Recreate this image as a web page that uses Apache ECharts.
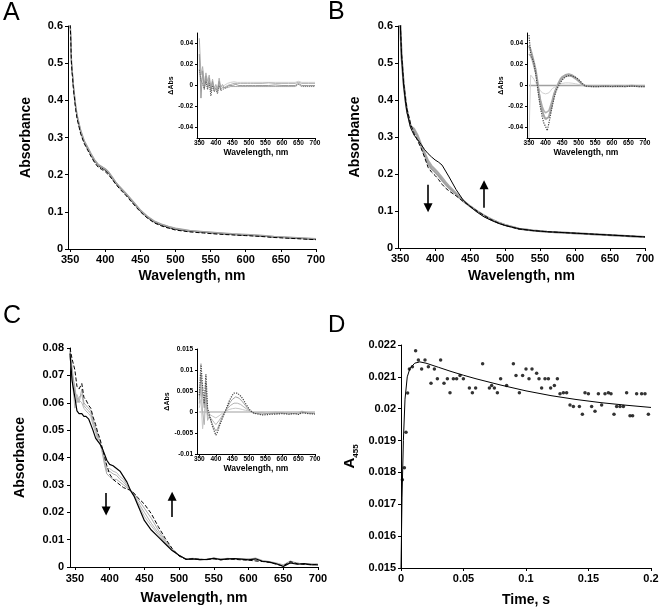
<!DOCTYPE html>
<html><head><meta charset="utf-8">
<script src="https://cdn.jsdelivr.net/npm/echarts@6/dist/echarts.min.js"></script>
<style>html,body{margin:0;padding:0;background:#fff}#c{width:661px;height:610px}</style>
</head><body><div id="c"></div>
<script>
// ---------- tick labels ----------
const WL_TICKS = [350,400,450,500,550,600,650,700];
const INSET_AB_YTICKS = [-0.04,-0.02,0,0.02,0.04];

// ---------- panel A & B main spectra ----------
const WL_AB = [350,352,355,358,360,365,370,375,380,385,390,395,400,405,410,415,420,430,440,450,460,470,480,490,500,520,540,560,580,600,620,640,660,680,700];
const A_black = [.62,.50,.43,.38,.355,.315,.288,.27,.252,.236,.224,.218,.212,.203,.19,.177,.166,.146,.124,.102,.085,.072,.064,.058,.053,.048,.045,.042,.039,.037,.035,.032,.030,.028,.026];
const A_gray1 = [.62,.505,.435,.385,.36,.32,.292,.274,.256,.24,.228,.222,.216,.207,.194,.18,.169,.149,.127,.105,.088,.075,.067,.061,.056,.05,.047,.044,.041,.039,.037,.034,.032,.030,.028];
const A_gray2 = [.62,.50,.432,.382,.358,.318,.29,.272,.254,.238,.226,.221,.215,.206,.192,.179,.168,.148,.126,.104,.087,.074,.066,.060,.055,.049,.046,.043,.040,.038,.036,.033,.031,.029,.027];
const A_dash  = [.62,.495,.425,.375,.35,.31,.284,.266,.248,.232,.22,.214,.208,.199,.187,.174,.163,.143,.121,.1,.083,.07,.062,.056,.051,.046,.043,.040,.038,.036,.034,.031,.029,.027,.025];

const B_black = [.62,.52,.44,.39,.365,.325,.305,.293,.28,.266,.255,.246,.238,.232,.224,.208,.192,.158,.13,.112,.097,.084,.075,.067,.061,.052,.047,.044,.042,.040,.038,.036,.034,.032,.030];
const B_gray1 = [.62,.52,.445,.395,.37,.33,.322,.305,.28,.258,.236,.222,.212,.202,.19,.178,.167,.148,.128,.113,.099,.087,.077,.069,.062,.052,.047,.044,.042,.040,.038,.036,.034,.032,.030];
const B_gray2 = [.62,.52,.445,.395,.37,.33,.318,.3,.276,.252,.228,.214,.205,.195,.183,.172,.162,.145,.127,.113,.1,.088,.078,.069,.062,.052,.047,.044,.042,.040,.038,.036,.034,.032,.030];
const B_dash  = [.62,.53,.45,.40,.375,.335,.31,.29,.27,.245,.218,.205,.196,.185,.172,.162,.154,.141,.126,.113,.1,.088,.077,.068,.061,.051,.047,.044,.042,.040,.038,.036,.034,.032,.030];
// arrows: [wavelength, from, to]
const B_arrows = [[390,0.171,0.109],[470,0.109,0.171]];

// ---------- panel C main spectra ----------
const WL_C = [343,346,350,353,356,360,363,366,370,373,376,380,383,386,390,393,396,400,405,410,415,420,425,430,435,440,450,460,470,480,490,500,510,520,530,540,550,560,570,580,590,600,610,620,630,640,650,660,670,680,690,700];
const C_dash  = [.080,.076,.072,.066,.065,.067,.062,.061,.059,.058,.055,.052,.049,.047,.043,.040,.037,.034,.032,.031,.030,.029,.0285,.028,.027,.0255,.023,.0195,.0148,.0105,.0068,.0040,.0028,.0030,.0028,.0027,.0030,.0026,.0029,.0028,.0026,.0025,.0022,.0020,.0017,.0010,.0004,.0020,.0012,.0010,.0008,.0010];
const C_black = [.078,.068,.062,.057,.056,.056,.055,.055,.054,.052,.050,.047,.046,.045,.043,.041,.039,.0375,.037,.036,.035,.033,.031,.028,.026,.023,.017,.0135,.011,.0085,.006,.0043,.0028,.0030,.0027,.0028,.0032,.0027,.0030,.0031,.0029,.0026,.0030,.0021,.0018,.0012,.0002,.0015,.0010,.0012,.0009,.0008];
const C_gray1 = [.079,.070,.066,.060,.062,.063,.059,.058,.057,.056,.053,.050,.047,.046,.042,.038,.035,.035,.034,.0335,.032,.031,.0295,.028,.0265,.024,.020,.016,.0125,.0093,.0063,.0041,.0030,.0029,.0030,.0026,.0034,.0028,.0031,.0027,.0030,.0028,.0033,.0024,.0020,.0015,.0008,.0022,.0014,.0011,.0012,.0009];
const C_gray2 = [.079,.073,.064,.062,.060,.065,.060,.059,.058,.057,.054,.051,.048,.046,.041,.037,.034,.033,.032,.032,.031,.030,.029,.028,.027,.025,.0215,.0178,.0135,.0098,.0066,.0041,.0029,.0031,.0026,.0029,.0028,.0031,.0027,.0030,.0027,.0029,.0025,.0022,.0019,.0013,.0006,.0018,.0015,.0009,.0010,.0011];
const C_gray3 = [.077,.069,.058,.063,.061,.060,.058,.057,.056,.055,.052,.049,.046,.045,.042,.039,.036,.036,.035,.0345,.033,.032,.030,.028,.026,.0235,.0185,.015,.0118,.0089,.0061,.0042,.0029,.0032,.0028,.0027,.0030,.0029,.0032,.0029,.0028,.0031,.0027,.0023,.0017,.0011,.0005,.0019,.0011,.0013,.0008,.0010];
const C_arrows = [[395,0.027,0.0205],[490,0.0183,0.0258]];

// ---------- inset difference spectra ----------
const WL_IN = [350,355,360,365,370,375,380,385,390,395,400,405,410,415,420,425,430,435,440,445,450,455,460,465,470,475,480,485,490,495,500,505,510,515,520,540,560,580,600,620,640,650,660,680,700];
const A_in1 = [.045,.010,.018,.002,.012,.004,.010,-.002,.006,-.003,.001,-.004,.007,-.002,.001,-.002,-.001,.000,.001,.001,.002,.002,.002,.002,.002,.002,.0025,.002,.002,.002,.002,.002,.002,.002,.002,.002,.0025,.002,.002,.002,.002,.003,.002,.002,.002];
const A_in2 = [.030,-.012,.014,-.004,.009,-.002,.007,-.006,.004,-.005,-.002,-.006,.004,-.004,-.002,-.003,-.002,-.001,.000,.000,.000,.000,.001,.000,.000,.001,.000,.000,.000,.000,.000,.000,.000,.000,.000,.000,.000,.0005,.000,.000,.000,.002,.000,.000,.000];
const A_in3 = [.015,.005,.006,-.003,.004,-.004,.002,-.010,.000,-.006,-.004,-.008,.000,-.005,-.004,-.003,-.002,-.002,-.001,-.001,-.001,-.001,-.001,-.001,-.001,-.001,-.001,-.001,-.001,-.001,-.001,-.001,-.001,-.001,-.001,-.001,-.001,-.001,-.001,-.001,-.001,.001,-.001,-.001,-.001];
const A_in4 = [.020,.004,.009,.000,.006,.001,.004,-.003,.002,-.002,.000,-.003,.003,-.001,.000,.000,.001,.002,.003,.003,.0035,.0035,.0035,.003,.003,.003,.003,.003,.003,.003,.003,.003,.003,.003,.003,.003,.003,.003,.003,.003,.003,.004,.003,.003,.003];

const B_in_dot = [.048,.030,.026,.021,.012,.000,-.012,-.022,-.030,-.036,-.039,-.043,-.036,-.028,-.020,-.013,-.007,-.003,.000,.003,.005,.007,.0085,.0092,.0095,.0095,.009,.0085,.008,.007,.0055,.004,.002,.0005,-.0005,-.001,-.001,-.0008,-.001,-.0008,-.001,-.0008,-.0005,-.001,-.001];
const B_in_g1 = [.038,.034,.028,.022,.015,.005,-.007,-.017,-.024,-.029,-.032,-.033,-.030,-.024,-.017,-.010,-.005,-.001,.003,.006,.008,.0093,.010,.0105,.0108,.0105,.0098,.0088,.0075,.006,.0045,.003,.0015,.0003,-.0005,-.0008,-.0008,-.0005,-.0008,-.0005,-.0008,-.0005,-.0003,-.0008,-.0008];
const B_in_g2 = [.030,.028,.024,.018,.012,.004,-.006,-.014,-.020,-.024,-.026,-.027,-.024,-.019,-.014,-.008,-.004,-.001,.002,.0045,.0065,.0078,.0085,.009,.0092,.009,.0085,.0075,.0064,.005,.0038,.0025,.0012,.0002,-.0005,-.0008,-.0006,-.0005,-.0007,-.0005,-.0007,-.0004,-.0003,-.0007,-.0007];
const B_in_g3 = [-.050,.010,.008,.006,.003,.000,-.003,-.005,-.007,-.008,-.008,-.008,-.007,-.005,-.003,-.002,-.001,.000,.001,.0015,.002,.0023,.0025,.0025,.0025,.0024,.0022,.002,.0017,.0014,.001,.0006,.0003,.0000,-.0003,-.0005,-.0005,-.0005,-.0005,-.0005,-.0005,-.0005,-.0005,-.0005,-.0005];

const C_in_dot = [.004,.0115,.006,.002,.009,.001,-.0005,-.002,-.0035,-.0045,-.0055,-.0048,-.0035,-.0025,-.0015,-.0005,.0005,.0015,.0025,.0033,.004,.0045,.0047,.0045,.0043,.0038,.0033,.0027,.002,.0014,.0008,.0003,.0000,-.0003,-.0005,-.0007,-.0006,-.0005,-.0004,-.0005,-.0004,-.0006,-.0002,-.0004,-.0005];
const C_in_g1 = [.003,.009,.004,.001,.007,-.0005,-.001,-.002,-.003,-.0038,-.0045,-.004,-.003,-.002,-.0012,-.0004,.0004,.0011,.0019,.0025,.003,.0034,.0036,.0035,.0033,.0029,.0025,.002,.0015,.001,.0006,.0002,-.0001,-.0003,-.0004,-.0005,-.0003,-.0004,-.0002,-.0005,-.0003,-.0005,.0000,-.0003,-.0004];
const C_in_g2 = [.002,.006,.000,-.003,.004,-.002,-.001,-.0015,-.002,-.0025,-.003,-.0027,-.002,-.0014,-.0008,-.0002,.0003,.0008,.0012,.0016,.0019,.0021,.0022,.0021,.002,.0018,.0015,.0012,.0009,.0006,.0003,.0001,-.0001,-.0002,-.0003,-.0002,-.0004,-.0001,-.0003,-.0002,-.0004,-.0002,.0001,-.0002,-.0003];
const C_in_g3 = [.001,.003,-.004,.000,.002,-.001,-.0005,-.0008,-.001,-.0012,-.0014,-.0012,-.0009,-.0006,-.0003,.0000,.0002,.0004,.0006,.0007,.0008,.0009,.0009,.0009,.0008,.0007,.0006,.0005,.0004,.0003,.0002,.0001,.0000,-.0001,-.0002,-.0001,-.0003,.0000,-.0002,-.0001,-.0003,-.0001,.0002,-.0001,-.0002];

const BASE_WL = [350,700];
const BASE_V = [0,0];

// ---------- panel D kinetics ----------
const D_t = [0.0011,0.0027,0.0040,0.0053,0.0067,0.0091,0.0117,0.0139,0.0165,0.0192,
  0.0219,0.0240,0.0267,0.0291,0.0317,0.0344,0.0371,0.0392,0.0419,0.0445,
  0.0472,0.0499,0.0547,0.0571,0.0597,0.0653,0.0707,0.0725,0.0747,0.0771,
  0.0797,0.0845,0.0899,0.0920,0.0947,0.0973,0.1000,0.1024,0.1048,0.1085,
  0.1104,0.1125,0.1152,0.1179,0.1197,0.1227,0.1251,0.1272,0.1299,0.1325,
  0.1352,0.1379,0.1427,0.1451,0.1472,0.1499,0.1525,0.1552,0.1579,0.1605,
  0.1632,0.1659,0.1680,0.1704,0.1725,0.1752,0.1779,0.1805,0.1832,0.1853,
  0.1885,0.1925,0.1952,0.1979];
const D_A = [0.01777,0.01815,0.01926,0.02049,0.02125,0.02132,0.02182,0.02153,0.02125,0.02153,
  0.02132,0.02080,0.02125,0.02094,0.02153,0.02080,0.02094,0.02050,0.02094,0.02094,
  0.02104,0.02094,0.02065,0.02050,0.02065,0.02141,0.02065,0.02073,0.02065,0.02050,
  0.02094,0.02073,0.02141,0.02104,0.02050,0.02104,0.02125,0.02094,0.02125,0.02111,
  0.02094,0.02065,0.02094,0.02094,0.02065,0.02073,0.02094,0.02047,0.02050,0.02050,
  0.02012,0.02007,0.02007,0.01983,0.02050,0.02047,0.02007,0.01992,0.02047,0.02012,
  0.02047,0.02050,0.02047,0.01983,0.02007,0.02007,0.02007,0.02050,0.01978,0.01978,
  0.02047,0.02047,0.02047,0.01983];
const D_fit_t = [0,0.0008,0.0019,0.0032,0.005,0.0072,0.011,0.015,0.02,0.03,0.04,0.05,0.06,0.08,0.1,0.12,0.14,0.16,0.18,0.2];
const D_fit_A = [0.0150,0.0172,0.0190,0.0203,0.0210,0.02127,0.02143,0.02147,0.02143,0.02130,0.02117,0.02105,0.02094,0.02074,0.02056,0.02041,0.02029,0.02019,0.02011,0.02004];

// ---------- build ----------
const FONT = "'Liberation Sans', Arial, Helvetica, sans-serif";
const zip = (xs, ys) => xs.map((x, i) => [x, ys[i]]);

function ln(g, xs, ys, color, width, type, z) {
  return {type: 'line', xAxisIndex: g, yAxisIndex: g, data: zip(xs, ys), showSymbol: false, symbol: 'none',
    lineStyle: {color: color, width: width, type: type || 'solid'}, z: z || 2, animation: false, silent: true};
}
function arrows(arr) {
  return {silent: true, symbol: ['none', 'triangle'], symbolSize: 9, animation: false,
    lineStyle: {color: '#000', width: 1.6, type: 'solid'}, label: {show: false},
    data: arr.map(a => [{coord: [a[0], a[1]]}, {coord: [a[0], a[2]]}])};
}
function xAx(g, o) {
  return {gridIndex: g, type: 'value', min: o.min, max: o.max, interval: o.interval,
    axisLine: {show: true, onZero: false, lineStyle: {color: '#000', width: 1}},
    axisTick: {show: true, inside: false, length: o.tl, customValues: o.ticks, lineStyle: {color: '#000', width: 1}},
    axisLabel: {show: true, customValues: o.ticks, margin: o.margin, fontSize: o.fs, fontWeight: 'bold', color: '#000', fontFamily: FONT, hideOverlap: false},
    splitLine: {show: false},
    name: o.name, nameLocation: 'middle', nameGap: o.gap,
    nameTextStyle: {fontSize: o.nfs, fontWeight: 'bold', color: '#000', fontFamily: FONT}};
}
function yAx(g, o) {
  const a = xAx(g, o);
  if (o.rich) a.nameTextStyle.rich = o.rich;
  return a;
}

const option = {
  backgroundColor: '#fff',
  animation: false,
  grid: [
    {left: 68, top: 26, width: 248, height: 223, outerBoundsMode: 'none'},
    {left: 197, top: 33, width: 118, height: 105, outerBoundsMode: 'none'},
    {left: 398, top: 26, width: 247, height: 222, outerBoundsMode: 'none'},
    {left: 527, top: 33, width: 118, height: 105, outerBoundsMode: 'none'},
    {left: 70, top: 348, width: 248, height: 219, outerBoundsMode: 'none'},
    {left: 197, top: 349, width: 118, height: 105, outerBoundsMode: 'none'},
    {left: 401, top: 345, width: 250, height: 223, outerBoundsMode: 'none'}
  ],
  xAxis: [
    xAx(0, {min: 347, max: 700, ticks: WL_TICKS, tl: 3, margin: 5, fs: 11, name: 'Wavelength, nm', gap: 20, nfs: 14}),
    xAx(1, {min: 343, max: 700, ticks: WL_TICKS, tl: 2, margin: 2, fs: 6.5, name: 'Wavelength, nm', gap: 10, nfs: 8.5}),
    xAx(2, {min: 347, max: 700, ticks: WL_TICKS, tl: 3, margin: 5, fs: 11, name: 'Wavelength, nm', gap: 21, nfs: 14}),
    xAx(3, {min: 344, max: 700, ticks: WL_TICKS, tl: 2, margin: 2, fs: 6.5, name: 'Wavelength, nm', gap: 10, nfs: 8.5}),
    xAx(4, {min: 343, max: 700, ticks: WL_TICKS, tl: 3, margin: 6, fs: 11, name: 'Wavelength, nm', gap: 24, nfs: 14}),
    xAx(5, {min: 343, max: 700, ticks: WL_TICKS, tl: 2, margin: 2, fs: 6.5, name: 'Wavelength, nm', gap: 9, nfs: 8.5}),
    xAx(6, {min: 0, max: 0.2, interval: 0.05, tl: 3, margin: 5, fs: 11, name: 'Time, s', gap: 25, nfs: 14})
  ],
  yAxis: [
    yAx(0, {min: 0, max: 0.6, interval: 0.1, tl: 3, margin: 5, fs: 11, name: 'Absorbance', gap: 35, nfs: 14}),
    yAx(1, {min: -0.05, max: 0.05, ticks: INSET_AB_YTICKS, tl: 2, margin: 4, fs: 6.5, name: 'ΔAbs', gap: 20, nfs: 7}),
    yAx(2, {min: 0, max: 0.6, interval: 0.1, tl: 3, margin: 5, fs: 11, name: 'Absorbance', gap: 36, nfs: 14}),
    yAx(3, {min: -0.05, max: 0.05, ticks: INSET_AB_YTICKS, tl: 2, margin: 4, fs: 6.5, name: 'ΔAbs', gap: 20, nfs: 7}),
    yAx(4, {min: 0, max: 0.08, interval: 0.01, tl: 3, margin: 6, fs: 11, name: 'Absorbance', gap: 43, nfs: 14}),
    yAx(5, {min: -0.01, max: 0.015, interval: 0.005, tl: 2, margin: 4, fs: 6.5, name: 'ΔAbs', gap: 18, nfs: 7}),
    yAx(6, {min: 0.015, max: 0.022, interval: 0.001, tl: 3, margin: 5, fs: 11, name: '{a|A}{s|455}', gap: 41, nfs: 14,
      rich: {a: {fontSize: 15, fontWeight: 'bold', fontFamily: FONT, color: '#000', lineHeight: 20},
             s: {fontSize: 8, fontWeight: 'bold', fontFamily: FONT, color: '#000', verticalAlign: 'bottom', lineHeight: 10}}})
  ],
  series: [
    // A main
    ln(0, WL_AB, A_black, '#000', 1, 'solid', 2),
    ln(0, WL_AB, A_gray1, '#a8a8a8', 1.3, 'solid', 3),
    ln(0, WL_AB, A_gray2, '#a0a0a0', 1.3, 'solid', 3),
    ln(0, WL_AB, A_dash, '#000', 1, [4, 2], 4),
    // A inset
    ln(1, WL_IN, A_in4, '#cfcfcf', 1, 'solid', 2),
    ln(1, WL_IN, A_in1, '#b0b0b0', 1, 'solid', 3),
    ln(1, WL_IN, A_in2, '#9a9a9a', 1, 'solid', 3),
    ln(1, WL_IN, A_in3, '#555', 1, 'dotted', 4),
    // B main
    ln(2, WL_AB, B_gray1, '#aaaaaa', 2, 'solid', 2),
    ln(2, WL_AB, B_gray2, '#a0a0a0', 2, 'solid', 2),
    ln(2, WL_AB, B_black, '#000', 1, 'solid', 3),
    Object.assign(ln(2, WL_AB, B_dash, '#000', 1, [4, 2], 4), {markLine: arrows(B_arrows)}),
    // B inset
    ln(3, BASE_WL, BASE_V, '#a0a0a0', 1.5, 'solid', 1),
    ln(3, WL_IN, B_in_g3, '#d0d0d0', 1, 'solid', 2),
    ln(3, WL_IN, B_in_g2, '#b0b0b0', 1.5, 'solid', 2),
    ln(3, WL_IN, B_in_g1, '#a6a6a6', 2, 'solid', 3),
    ln(3, WL_IN, B_in_dot, '#444', 1.2, 'dotted', 4),
    // C main
    ln(4, WL_C, C_gray1, '#b0b0b0', 1, 'solid', 2),
    ln(4, WL_C, C_gray2, '#a8a8a8', 1, 'solid', 2),
    ln(4, WL_C, C_gray3, '#b8b8b8', 1, 'solid', 2),
    ln(4, WL_C, C_black, '#000', 1.2, 'solid', 3),
    Object.assign(ln(4, WL_C, C_dash, '#000', 1, [4, 2], 4), {markLine: arrows(C_arrows)}),
    // C inset
    ln(5, BASE_WL, BASE_V, '#a0a0a0', 1.2, 'solid', 1),
    ln(5, WL_IN, C_in_g3, '#c8c8c8', 1, 'solid', 2),
    ln(5, WL_IN, C_in_g2, '#b4b4b4', 1, 'solid', 2),
    ln(5, WL_IN, C_in_g1, '#a0a0a0', 1, 'solid', 3),
    ln(5, WL_IN, C_in_dot, '#444', 1.2, 'dotted', 4),
    // D
    {type: 'scatter', xAxisIndex: 6, yAxisIndex: 6, data: zip(D_t, D_A), symbol: 'circle', symbolSize: 3.5,
      itemStyle: {color: '#000'}, animation: false, silent: true, z: 3},
    ln(6, D_fit_t, D_fit_A, '#000', 1, 'solid', 2)
  ],
  graphic: [
    {type: 'text', left: 3, top: 1, style: {text: 'A', font: "25px " + FONT, fill: '#000'}},
    {type: 'text', left: 328, top: 0, style: {text: 'B', font: "25px " + FONT, fill: '#000'}},
    {type: 'text', left: 3, top: 304, style: {text: 'C', font: "25px " + FONT, fill: '#000'}},
    {type: 'text', left: 328, top: 313, style: {text: 'D', font: "24px " + FONT, fill: '#000'}}
  ]
};

const chart = echarts.init(document.getElementById('c'), null, {renderer: 'canvas'});
chart.setOption(option);
</script></body></html>
